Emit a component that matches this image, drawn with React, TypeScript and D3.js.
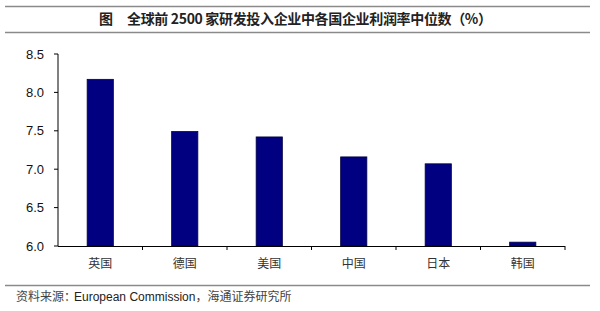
import React from "react";
import * as d3 from "d3";

const categories = ["英国", "德国", "美国", "中国", "日本", "韩国"];
const values = [8.17, 7.49, 7.42, 7.16, 7.07, 6.05];
const yTicks = [6.0, 6.5, 7.0, 7.5, 8.0, 8.5];
const titleLead = "图";
const titleText = "全球前 2500 家研发投入企业中各国企业利润率中位数（%）";
const sourceParts = ["资料来源：", "European Commission", "，海通证券研究所"];

export default function App() {
  const W = 600, H = 311;
  const x = d3.scaleBand<string>().domain(categories).range([58, 565]).paddingInner(0.69).paddingOuter(0.345);
  const y = d3.scaleLinear().domain([6.0, 8.5]).range([246, 54]);
  const step = x.step();
  const cjk = "'Noto Sans CJK SC', 'Noto Sans', sans-serif";
  const latin = "'Liberation Sans', Arial, sans-serif";
  return (
    <svg width={W} height={H} style={{ position: "absolute", left: 0, top: 0, background: "#fff" }}>
      <line x1={5} x2={590} y1={6.5} y2={6.5} stroke="#8a8a8a" strokeWidth={1.5} />
      <line x1={5} x2={590} y1={32.5} y2={32.5} stroke="#8a8a8a" strokeWidth={1.5} />
      <text x={99} y={24} fontFamily={cjk} fontSize={14} fontWeight="bold" fill="#222">{titleLead}</text>
      <text x={127} y={24} fontFamily={cjk} fontSize={14} fontWeight="bold" fill="#222" textLength={365} lengthAdjust="spacing">{titleText}</text>

      {values.map((v, i) => (
        <rect key={i} x={x(categories[i])} y={y(v)} width={x.bandwidth()} height={y(6.0) - y(v)}
          fill="#000080" stroke="#000040" strokeWidth={0.8} />
      ))}

      <line x1={58} x2={58} y1={54} y2={246} stroke="#000" strokeWidth={1} />
      {yTicks.map((t) => (
        <g key={t}>
          <line x1={54} x2={58} y1={y(t)} y2={y(t)} stroke="#000" />
          <text x={44} y={y(t)} dy="0.35em" textAnchor="end" fontFamily={latin} fontSize={13} fill="#111">{t.toFixed(1)}</text>
        </g>
      ))}
      <line x1={58} x2={565} y1={246.5} y2={246.5} stroke="#000" strokeWidth={1} />
      {categories.map((c, i) => (
        <line key={"t" + i} x1={58 + step * (i + 1)} x2={58 + step * (i + 1)} y1={246} y2={250} stroke="#000" />
      ))}
      {categories.map((c) => (
        <text key={c} x={(x(c) as number) + x.bandwidth() / 2} y={268} textAnchor="middle" fontFamily={cjk} fontSize={12} fill="#333">{c}</text>
      ))}

      <line x1={5} x2={590} y1={285.5} y2={285.5} stroke="#8a8a8a" strokeWidth={1.5} />
      <text x={16} y={301} fontSize={12} fill="#222">
        <tspan fontFamily={cjk} fill="#444">{sourceParts[0]}</tspan>
        <tspan x={74} fontFamily={latin}>{sourceParts[1]}</tspan>
        <tspan fontFamily={cjk} fill="#444">{sourceParts[2]}</tspan>
      </text>
    </svg>
  );
}
